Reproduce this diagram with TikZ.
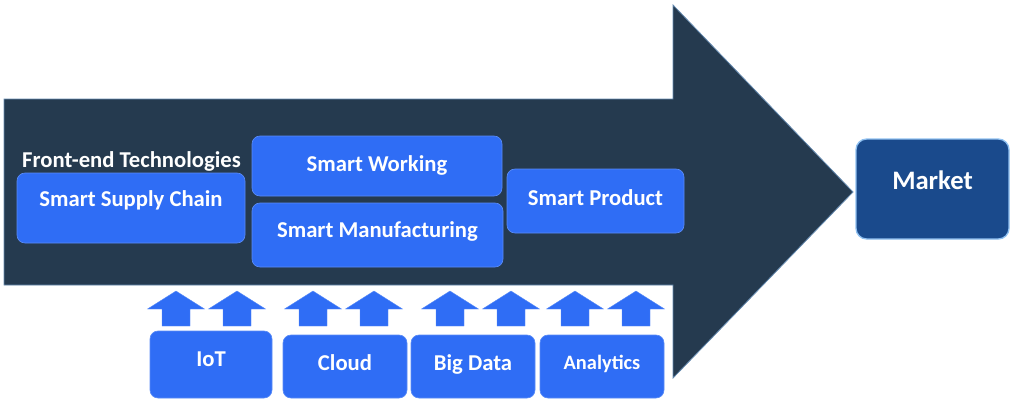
\documentclass[tikz,border=0pt]{standalone}
\usepackage{fontspec}
\setmainfont{Carlito}
\usetikzlibrary{fit}
\definecolor{darkarrow}{HTML}{253A4F}
\definecolor{boxblue}{HTML}{2F6DF5}
\definecolor{boxedge}{HTML}{5A8CF7}
\definecolor{marketblue}{HTML}{1A4A8C}
\definecolor{marketedge}{HTML}{8FC0F0}
\tikzset{
  bbox/.style={fill=boxblue, draw=boxedge, line width=0.5pt, rounded corners=6pt, inner sep=0pt},
  mbox/.style={fill=marketblue, draw=marketedge, line width=1pt, rounded corners=8pt, inner sep=0pt},
  lbl/.style={text=white, font=\bfseries\fontsize{17}{20}\selectfont, anchor=base, inner sep=0pt},
  uparrow/.style={fill=boxblue, draw=boxedge, line width=0.3pt},
}
\begin{document}
\begin{tikzpicture}[x=0.75pt,y=-0.75pt]
\useasboundingbox (0,0) rectangle (1017,404);
% big arrow
\draw[fill=darkarrow, draw=marketedge!60!darkarrow, line width=0.6pt]
  (4,99) -- (673,99) -- (673,5) -- (853,192) -- (673,378) -- (673,285) -- (4,285) -- cycle;
% front-end label
\node[lbl] (fe) at (131.5,167) {Front-end Technologies};
% top boxes
\node[bbox, fit={(17,173)(245,243)}] (ssc) {};
\node[lbl] at (131,206.5) {Smart Supply Chain};
\node[bbox, fit={(252,136)(502,196)}] (sw) {};
\node[lbl] at (377,171.5) {Smart Working};
\node[bbox, fit={(252,203)(503,267)}] (sm) {};
\node[lbl] at (377.5,237.3) {Smart Manufacturing};
\node[bbox, fit={(507,169)(684,233)}] (sp) {};
\node[lbl] at (595.5,205) {Smart Product};
% market
\node[mbox, fit={(856,139)(1009,239)}] (mk) {};
\node[lbl, font=\bfseries\fontsize{20}{24}\selectfont] at (932.5,189) {Market};
% bottom boxes
\node[bbox, fit={(150,331)(272,398)}] (iot) {};
\node[lbl] at (211,366) {IoT};
\node[bbox, fit={(283,335)(407,398)}] (cl) {};
\node[lbl] at (345,370) {Cloud};
\node[bbox, fit={(411,335)(535,398)}] (bd) {};
\node[lbl] at (473,370) {Big Data};
\node[bbox, fit={(540,335)(664,398)}] (an) {};
\node[lbl, font=\bfseries\fontsize{15.3}{18}\selectfont] at (602,369.3) {Analytics};
% up arrows
\foreach \cx in {176,237,313,374,450,511,575,636}{
  \draw[uparrow] (\cx,291) -- (\cx+28.5,309) -- (\cx+14,309) -- (\cx+14,326)
     -- (\cx-14,326) -- (\cx-14,309) -- (\cx-28.5,309) -- cycle;
}
\end{tikzpicture}
\end{document}
